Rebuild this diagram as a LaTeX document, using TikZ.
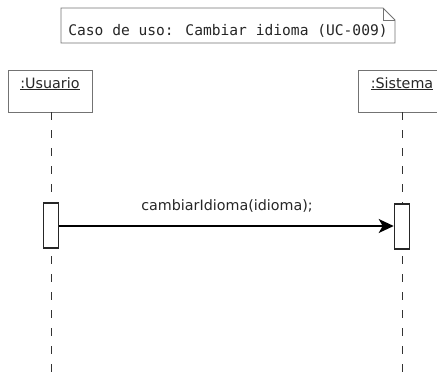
\documentclass[tikz,border=0pt]{standalone}
\usepackage{fontspec}
\setmainfont{DejaVu Sans}
\newfontfamily\notefont{DejaVu Sans Mono}
\usetikzlibrary{arrows.meta}
\begin{document}
\begin{tikzpicture}[x=1pt,y=-1pt,
  objbox/.style={draw=black!55,line width=0.8pt,fill=white},
  lifeline/.style={draw=black!80,line width=0.9pt,dash pattern=on 8pt off 10pt},
  actbox/.style={draw=black!85,line width=1.6pt,fill=white},
  msg/.style={draw=black,line width=1.4pt,-{Stealth[length=15pt,width=14pt,inset=4pt]}},
  lbl/.style={font=\fontsize{14.3}{16}\selectfont,text=black!85,inner sep=0pt},
  notetxt/.style={font=\notefont\fontsize{14.6}{16}\selectfont,text=black!85,inner sep=0pt}]
\useasboundingbox (0,0) rectangle (437,381);
\clip (0,0) rectangle (437,381);
% note
\draw[draw=black!55,line width=0.8pt,fill=white] (61,8) -- (383,8) -- (395,20) -- (395,43) -- (61,43) -- cycle;
\draw[draw=black!55,line width=0.8pt] (383,8) -- (383,20) -- (395,20);
\node[notetxt,anchor=base] (note) at (228,35) {Caso de uso: Cambiar idioma (UC-009)};
% lifelines
\coordinate (uend) at (51,381);
\coordinate (send) at (402,381);
\draw[objbox] (8,70) rectangle (92,112);
\node[lbl,anchor=base] (usr) at (50,88) {\underline{:Usuario}};
\coordinate (utop) at (51,112);
\draw[objbox] (358,70) rectangle (446,112);
\node[lbl,anchor=base] (sis) at (402,88) {\underline{:Sistema}};
\coordinate (stop) at (402,112);
\draw[lifeline] (utop) -- (uend);
\draw[lifeline] (stop) -- (send);
% activations
\node[actbox,minimum width=15pt,minimum height=45pt,inner sep=0pt] (ua) at (51,225.5) {};
\node[actbox,minimum width=15pt,minimum height=45pt,inner sep=0pt] (sa) at (402,226.5) {};
\draw[msg] (ua.east |- 0,226) -- (sa.west |- 0,226);
\node[lbl,anchor=base] (m) at (227,210) {cambiarIdioma(idioma);};
\end{tikzpicture}
\end{document}
